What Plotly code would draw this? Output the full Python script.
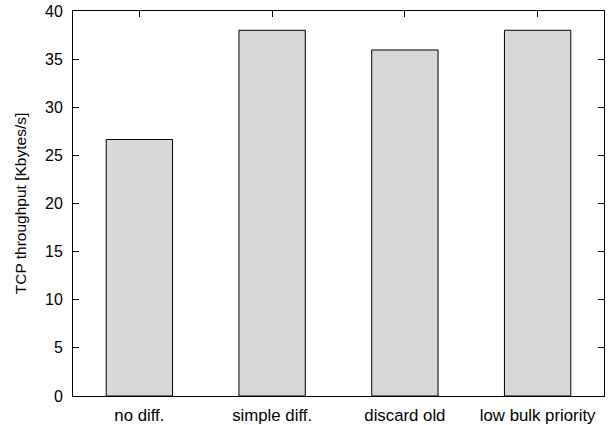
import plotly.graph_objects as go

categories = ["no diff.", "simple diff.", "discard old", "low bulk priority"]
throughput = [26.65, 38.0, 35.95, 38.0]
y_ticks = [0, 5, 10, 15, 20, 25, 30, 35, 40]

fig = go.Figure()
fig.add_trace(go.Bar(
    x=list(range(len(categories))),
    y=throughput,
    width=0.5,
    marker=dict(color="#d8d8d8", line=dict(color="black", width=1)),
))

fig.update_layout(
    width=610, height=425,
    margin=dict(l=73, r=6, t=11, b=29),
    paper_bgcolor="white", plot_bgcolor="white",
    showlegend=False,
    font=dict(family="Liberation Sans, Arial, sans-serif", size=16, color="black"),
)
fig.update_xaxes(
    range=[-0.5, 3.5],
    tickvals=list(range(len(categories))),
    ticktext=categories,
    ticks="inside", ticklen=6, tickcolor="black",
    showline=True, linecolor="black", linewidth=1, mirror="ticks",
    showgrid=False, zeroline=False,
    layer="below traces",
    tickfont=dict(size=16.8),
    automargin=False,
    ticklabelstandoff=4,
)
fig.update_yaxes(
    range=[0, 40],
    tickvals=y_ticks,
    ticks="inside", ticklen=6, tickcolor="black",
    showline=True, linecolor="black", linewidth=1, mirror="ticks",
    showgrid=False, zeroline=False,
    title=dict(text="TCP throughput [Kbytes/s]", font=dict(size=15.5), standoff=14),
    tickfont=dict(size=16),
    automargin=False,
    ticklabelstandoff=6,
)

fig.write_html("out.html", config={"displayModeBar": False},
               post_script="document.body.style.margin='0px';")
